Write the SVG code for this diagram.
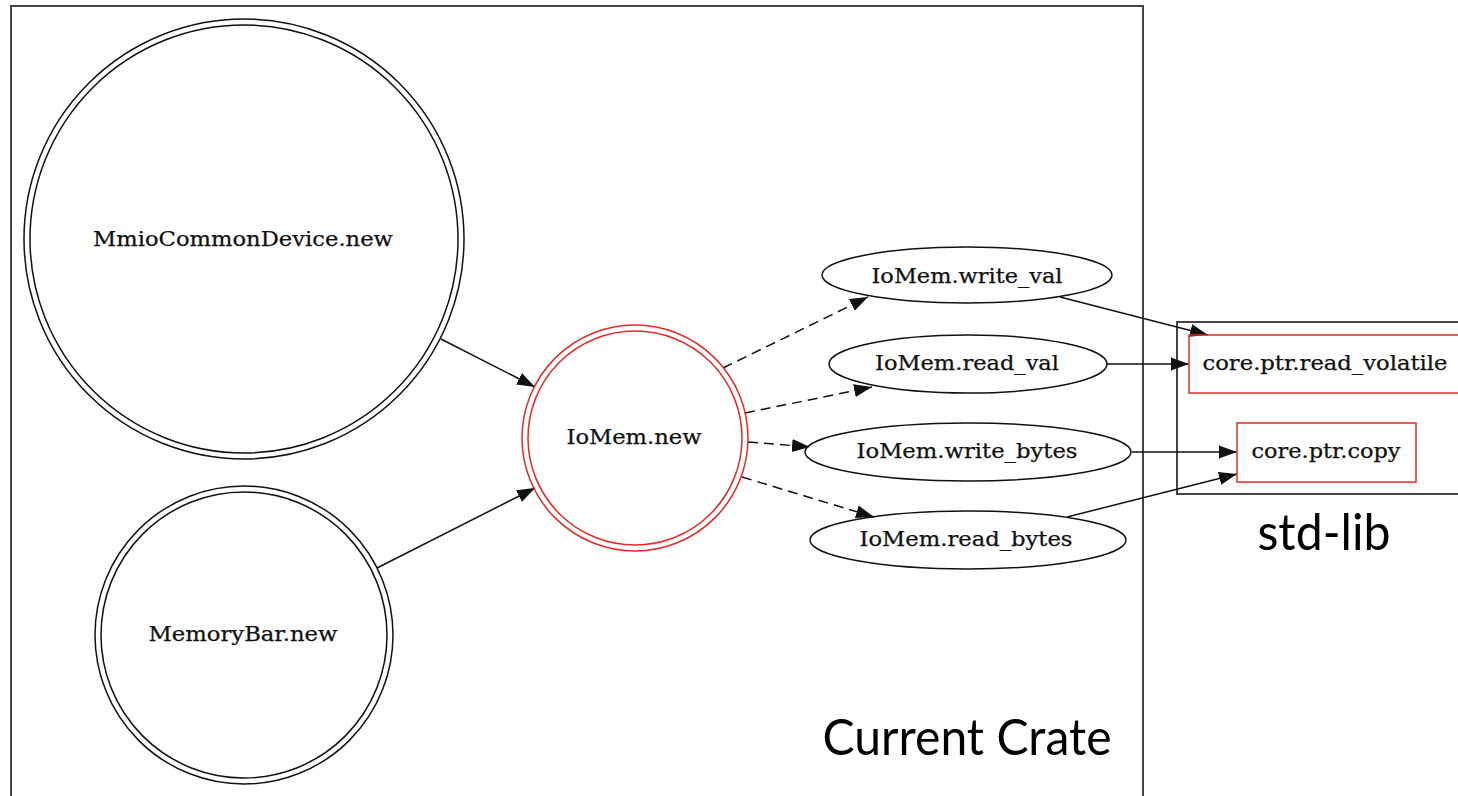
<svg xmlns="http://www.w3.org/2000/svg" width="1458" height="796" viewBox="0 0 1458 796">
  <style>
    .cluster { fill: none; stroke: #444; stroke-width: 2; }
    .node { fill: none; stroke: #111; stroke-width: 1.5; }
    .hot { fill: none; stroke: #e02a2a; stroke-width: 1.5; }
    .lbl { font-family: "DejaVu Serif", "Liberation Serif", serif; font-size: 20.5px; fill: #111; stroke: #111; stroke-width: 0.25; text-anchor: middle; }
    .title { font-family: Lato, "Open Sans", sans-serif; font-size: 50px; fill: #000; text-anchor: middle; }
    .edge { fill: none; stroke: #111; stroke-width: 1.5; marker-end: url(#arrow); }
    .dash { stroke-dasharray: 10 6; }
  </style>
  <defs>
    <marker id="arrow" markerUnits="userSpaceOnUse" markerWidth="20" markerHeight="16" refX="18" refY="7" orient="auto">
      <path d="M0,0.5 L18,7 L0,13.5 z" fill="#111"/>
    </marker>
  </defs>
  <rect width="1458" height="796" fill="#fff"/>

  <!-- clusters -->
  <g id="cluster-current-crate">
    <rect class="cluster" x="11" y="6" width="1132" height="800"/>
    <text class="title" x="967" y="755" textLength="289" lengthAdjust="spacingAndGlyphs">Current Crate</text>
  </g>
  <g id="cluster-std-lib">
    <rect class="cluster" x="1177" y="322" width="300" height="172"/>
    <text class="title" x="1324" y="550" textLength="133" lengthAdjust="spacingAndGlyphs">std-lib</text>
  </g>

  <!-- connectors -->
  <g id="edges">
    <path class="edge" d="M441,339 L535,387"/>
    <path class="edge" d="M377,568 L535,488"/>
    <path class="edge dash" d="M723,368 L868,297"/>
    <path class="edge dash" d="M745,413 L872,387"/>
    <path class="edge dash" d="M748,442 L810,447"/>
    <path class="edge dash" d="M742,477 L874,517"/>
    <path class="edge" d="M1060,297 L1208,335"/>
    <path class="edge" d="M1107,364 L1189,364"/>
    <path class="edge" d="M1132,452 L1237,452"/>
    <path class="edge" d="M1067,517 L1237,474"/>
  </g>

  <!-- nodes -->
  <g id="node-mmio">
    <circle class="node" cx="244" cy="239" r="220"/>
    <circle class="node" cx="244" cy="239" r="214"/>
    <text class="lbl" x="243" y="246" textLength="300" lengthAdjust="spacingAndGlyphs">MmioCommonDevice.new</text>
  </g>
  <g id="node-memorybar">
    <circle class="node" cx="244" cy="635" r="149"/>
    <circle class="node" cx="244" cy="635" r="143"/>
    <text class="lbl" x="243" y="641" textLength="189" lengthAdjust="spacingAndGlyphs">MemoryBar.new</text>
  </g>
  <g id="node-iomem-new">
    <circle class="hot" cx="635" cy="438" r="113"/>
    <circle class="hot" cx="635" cy="438" r="107"/>
    <text class="lbl" x="634" y="444" textLength="135" lengthAdjust="spacingAndGlyphs">IoMem.new</text>
  </g>
  <g id="node-write-val">
    <ellipse class="node" cx="967" cy="275" rx="145" ry="28"/>
    <text class="lbl" x="967" y="283" textLength="191" lengthAdjust="spacingAndGlyphs">IoMem.write_val</text>
  </g>
  <g id="node-read-val">
    <ellipse class="node" cx="968" cy="364" rx="139" ry="29"/>
    <text class="lbl" x="967" y="370" textLength="184" lengthAdjust="spacingAndGlyphs">IoMem.read_val</text>
  </g>
  <g id="node-write-bytes">
    <ellipse class="node" cx="968" cy="452" rx="163" ry="29"/>
    <text class="lbl" x="967" y="458" textLength="221" lengthAdjust="spacingAndGlyphs">IoMem.write_bytes</text>
  </g>
  <g id="node-read-bytes">
    <ellipse class="node" cx="968" cy="540" rx="158" ry="29"/>
    <text class="lbl" x="966" y="546" textLength="213" lengthAdjust="spacingAndGlyphs">IoMem.read_bytes</text>
  </g>
  <g id="node-read-volatile">
    <rect class="hot" x="1189" y="335" width="280" height="58"/>
    <text class="lbl" x="1325" y="370" textLength="245" lengthAdjust="spacingAndGlyphs">core.ptr.read_volatile</text>
  </g>
  <g id="node-copy">
    <rect class="hot" x="1237" y="423" width="179" height="59"/>
    <text class="lbl" x="1326" y="458" textLength="149" lengthAdjust="spacingAndGlyphs">core.ptr.copy</text>
  </g>
</svg>
